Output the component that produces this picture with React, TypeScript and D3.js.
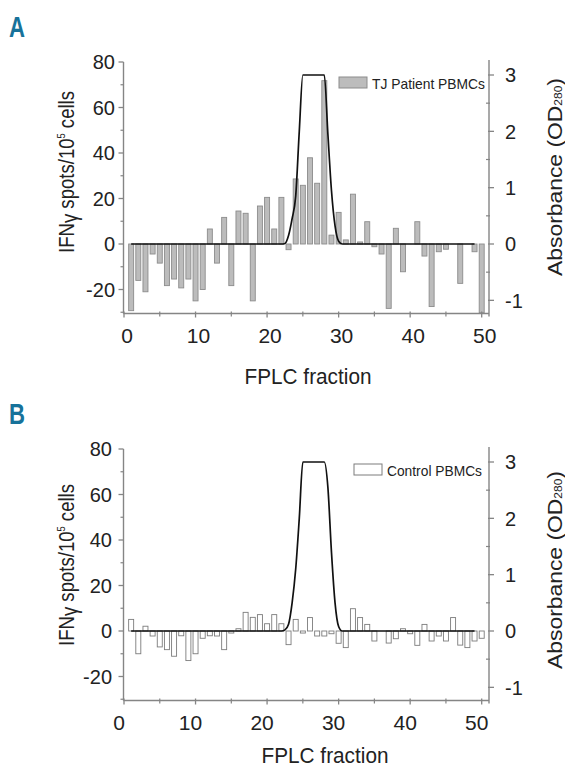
import React from 'react';
import * as d3 from 'd3';

const fractions = [1,2,3,4,5,6,7,8,9,10,11,12,13,14,15,16,17,18,19,20,21,22,23,24,25,26,27,28,29,30,31,32,33,34,35,36,37,38,39,40,41,42,43,44,45,46,47,48,49,50];
const patientSpots = [-29.3,-16,-21,-4.4,-8.4,-18.3,-15.4,-19.3,-15.4,-25,-20,6.6,-8.4,11.7,-18.3,14.5,13.5,-25,16.7,20.5,6.6,20.5,-2.5,28.6,25.8,37.9,26.7,71.8,3.9,13.9,1.8,21.9,0.9,9.8,-1.2,-4.4,-28.3,6.9,-12.2,0,9.8,-5.3,-27.5,-3.4,-2.3,0,-17.3,0,-3.4,-30.2];
const controlSpots = [5.1,-10,2.1,-2.2,-7,-8.2,-11.1,-2.1,-13,-10,-3.2,-2.1,-2.2,-8.2,-0.9,1,8.2,6,7.2,3.2,7.2,3.2,-6,5.1,-0.9,5.9,-2.2,-2.2,-1.2,-5.4,-7.3,9.8,5.9,2.9,-4.4,0,-5.3,-3.4,1,-1.2,-6.3,2.9,-4.4,-2.2,-4.4,5.9,-6.2,-7.3,-4.4,-3.2];
const absFractions = [1,22,22.5,23,23.5,24,24.5,25,28,28.5,29,29.5,30,30.5,49];
const patientAbs = [0,0,0.01,0.15,0.45,0.85,2.0,3.0,3.0,1.95,0.95,0.32,0.05,0,0];
const controlAbs = [0,0,0.02,0.12,0.5,1.1,2.0,3.0,3.0,2.55,1.4,0.5,0.08,0,0];
const xTicks = [0,10,20,30,40,50];
const xMinor = [5,15,25,35,45];
const leftTicks = [-20,0,20,40,60,80];
const leftMinor = [-30,-10,10,30,50,70];
const rightTicks = [-1,0,1,2,3];
const rightMinor = [-0.5,0.5,1.5,2.5];

const FONT = "'Liberation Sans', Arial, sans-serif";
const AXIS = '#858585';
const INK = '#222';

type PanelProps = {
  oy: number;
  letter: string;
  spots: number[];
  abs: number[];
  barFill: string;
  barStroke: string;
  legend: string;
  legendX: number;
  legendLen: number;
  labelDx: number;
  leftLabelX: number;
  titleX: number;
  titleY: number;
  yTitleC: number;
  rTitleC: number;
};

function Panel(p: PanelProps) {
  const { oy, letter, spots, abs, barFill, barStroke, legend, legendX, legendLen, labelDx } = p;
  const x = d3.scaleLinear().domain([0, 50]).range([124, 481.7]);
  const yL = d3.scaleLinear().domain([0, 80]).range([244 + oy, 62 + oy]);
  const yR = d3.scaleLinear().domain([0, 3]).range([244 + oy, 75 + oy]);
  const left = 123.5, right = 489, bottom = 313.5 + oy, top = 62 + oy;
  const line = d3.line<number>()
    .x((_, i) => x(absFractions[i]))
    .y((d) => yR(d))
    .curve(d3.curveMonotoneX);
  const bw = 5;
  return (
    <g fontFamily={FONT}>
      <text x={9} y={37 + oy} fontWeight="bold" fontSize={30} fill="#17729a" textLength={16} lengthAdjust="spacingAndGlyphs">{letter}</text>
      {fractions.map((f, i) => {
        const v = spots[i];
        if (v === 0) return null;
        const y0 = yL(0), y1 = yL(v);
        return <rect key={f} x={x(f) - bw / 2} y={Math.min(y0, y1)} width={bw} height={Math.abs(y1 - y0)} fill={barFill} stroke={barStroke} strokeWidth={0.9} />;
      })}
      <path d={line(abs) || ''} fill="none" stroke="#111" strokeWidth={1.7} />
      <line x1={left} x2={left} y1={top} y2={bottom} stroke={AXIS} strokeWidth={1.4} />
      <line x1={left} x2={right} y1={bottom} y2={bottom} stroke={AXIS} strokeWidth={1.4} />
      <line x1={right} x2={right} y1={top - 2} y2={bottom + 3} stroke={AXIS} strokeWidth={1.4} />
      {leftTicks.map((t) => (
        <g key={'l' + t}>
          <line x1={left - 5} x2={left} y1={yL(t)} y2={yL(t)} stroke={AXIS} strokeWidth={1.3} />
          <text x={p.leftLabelX} y={yL(t)} dy="0.36em" textAnchor="end" fontSize={20} fill={INK}>{t}</text>
        </g>
      ))}
      {leftMinor.map((t) => (
        <line key={'lm' + t} x1={left - 3} x2={left} y1={yL(t)} y2={yL(t)} stroke={AXIS} strokeWidth={1.2} />
      ))}
      {rightTicks.map((t) => (
        <g key={'r' + t}>
          <line x1={right - 1} x2={right + 5} y1={yR(t)} y2={yR(t)} stroke={AXIS} strokeWidth={1.3} />
          <text x={505} y={yR(t)} dy="0.36em" textAnchor="start" fontSize={20} fill={INK}>{t}</text>
        </g>
      ))}
      {rightMinor.map((t) => (
        <line key={'rm' + t} x1={right - 3} x2={right + 1} y1={yR(t)} y2={yR(t)} stroke={AXIS} strokeWidth={1.2} />
      ))}
      {xTicks.map((t) => (
        <g key={'x' + t}>
          <line x1={x(t)} x2={x(t)} y1={bottom - 2} y2={bottom + 4} stroke={AXIS} strokeWidth={1.3} />
          <text x={x(t) + labelDx} y={bottom + 29.5} textAnchor="middle" fontSize={21} fill={INK}>{t}</text>
        </g>
      ))}
      {xMinor.map((t) => (
        <line key={'xm' + t} x1={x(t)} x2={x(t)} y1={bottom - 2} y2={bottom + 3} stroke={AXIS} strokeWidth={1.2} />
      ))}
      <text x={p.titleX} y={p.titleY} textAnchor="middle" fontSize={22.5} fill={INK} textLength={127} lengthAdjust="spacingAndGlyphs">FPLC fraction</text>
      <text transform={`translate(74,${p.yTitleC}) rotate(-90)`} textAnchor="middle" fontSize={22} fill={INK} textLength={162} lengthAdjust="spacingAndGlyphs">
        IFN<tspan dy="3">γ</tspan><tspan dy="-3"> spots/10</tspan><tspan dy="-9" fontSize={11}>5</tspan><tspan dy="9"> cells</tspan>
      </text>
      <text transform={`translate(562,${p.rTitleC}) rotate(-90)`} textAnchor="middle" fontSize={21} fill={INK} textLength={198} lengthAdjust="spacingAndGlyphs">
        Absorbance (OD<tspan fontSize={11}>280</tspan>)
      </text>
      <rect x={legendX} y={77 + oy} width={28} height={11} fill={barFill} stroke={barStroke} strokeWidth={1} />
      <text x={legendX + 33} y={89 + oy} fontSize={15} fill={INK} textLength={legendLen} lengthAdjust="spacingAndGlyphs">{legend}</text>
    </g>
  );
}

export default function App() {
  return (
    <svg width={565} height={768} style={{ position: 'absolute', left: 0, top: 0, background: '#fff' }}>
      <rect width={565} height={768} fill="#fff" />
      <Panel oy={0} letter="A" spots={patientSpots} abs={patientAbs} barFill="#bcbcbc" barStroke="#8c8c8c"
        legend="TJ Patient PBMCs" legendX={339} legendLen={113} labelDx={3} leftLabelX={115}
        titleX={308} titleY={383.5} yTitleC={172} rTitleC={177} />
      <Panel oy={387} letter="B" spots={controlSpots} abs={controlAbs} barFill="#ffffff" barStroke="#7c7c7c"
        legend="Control PBMCs" legendX={354} legendLen={95} labelDx={-5} leftLabelX={112}
        titleX={325} titleY={763} yTitleC={565} rTitleC={570} />
    </svg>
  );
}
